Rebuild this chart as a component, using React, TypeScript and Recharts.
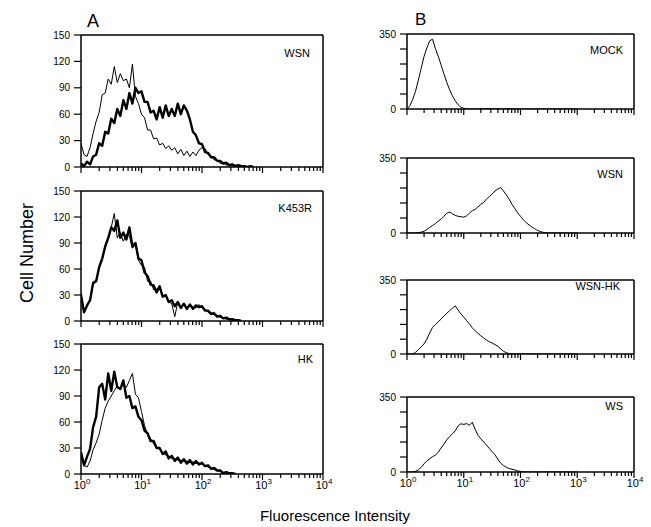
import React from 'react';
import { LineChart, Line, XAxis, YAxis } from 'recharts';

const FONT = '"Liberation Sans", Arial, Helvetica, sans-serif';

// log10 of fluorescence intensity (channel positions)
const logIntensity = [
  0.0, 0.05, 0.1, 0.15, 0.2, 0.25, 0.3, 0.35, 0.4, 0.45,
  0.5, 0.55, 0.6, 0.65, 0.7, 0.75, 0.8, 0.85, 0.9, 0.95,
  1.0, 1.05, 1.1, 1.15, 1.2, 1.25, 1.3, 1.35, 1.4, 1.45,
  1.5, 1.55, 1.6, 1.65, 1.7, 1.75, 1.8, 1.85, 1.9, 1.95,
  2.0, 2.05, 2.1, 2.15, 2.2, 2.25, 2.3, 2.35, 2.4, 2.45,
  2.5, 2.55, 2.6, 2.65, 2.7, 2.75, 2.8, 2.85, 2.9, 2.95,
  3.0,
];

const decadeExponents = ['0', '1', '2', '3', '4'];
const panelNamesA = ['WSN', 'K453R', 'HK'];
const panelNamesB = ['MOCK', 'WSN', 'WSN-HK', 'WS'];
const aYTicks = [0, 30, 60, 90, 120, 150];
const bYTicks = [0, 70, 140, 210, 280, 350];
const bYLabels = [0, 350];

// Panel A – WSN
const a1Thin = [
  27, 14, 12, 22, 38, 52, 62, 82, 84, 100,
  94, 114, 96, 106, 98, 100, 90, 117, 80, 72,
  60, 56, 42, 42, 32, 33, 25, 27, 21, 24,
  19, 22, 15, 20, 13, 18, 12, 17, 13, 19,
  22, 21, 14, 13, 8, 8, 4, 5, 2, 3,
  1, 2, 1, 1, 0, null, null, null, null, null,
  null,
];
const a1Thick = [
  4, 1, 6, 3, 12, 14, 27, 24, 40, 38,
  55, 50, 66, 58, 76, 66, 84, 72, 90, 84,
  86, 74, 74, 62, 64, 54, 68, 56, 70, 58,
  66, 58, 72, 60, 70, 64, 54, 40, 36, 27,
  26, 17, 16, 11, 11, 7, 7, 4, 5, 2,
  3, 1, 2, 1, 1, 0, 1, 0, null, null,
  null,
];
// Panel A – K453R
const a2Thin = [
  32, 10, 18, 24, 42, 46, 62, 70, 86, 94,
  108, 124, 96, 102, 92, 100, 98, 84, 88, 70,
  64, 62, 46, 46, 36, 37, 40, 28, 29, 22,
  20, 5, 22, 16, 19, 15, 17, 16, 15, 19,
  15, 14, 10, 10, 7, 7, 4, 4, 2, 2,
  1, 1, 1, 0, null, null, null, null, null, null,
  null,
];
const a2Thick = [
  30, 10, 18, 24, 44, 46, 62, 72, 86, 96,
  108, 104, 116, 96, 102, 94, 108, 86, 90, 72,
  70, 56, 52, 42, 41, 33, 40, 28, 30, 22,
  24, 17, 22, 15, 20, 14, 19, 14, 18, 16,
  17, 12, 12, 8, 9, 5, 6, 3, 4, 2,
  2, 1, 1, 0, null, null, null, null, null, null,
  null,
];
// Panel A – HK
const a3Thin = [
  20, 10, 8, 15, 28, 36, 46, 62, 76, 84,
  90, 96, 102, 98, 104, 100, 108, 116, 92, 88,
  72, 56, 46, 41, 35, 30, 29, 24, 22, 21,
  18, 18, 16, 16, 15, 15, 13, 14, 12, 13,
  11, 10, 8, 7, 5, 4, 3, 2, 1, 1,
  1, 0, null, null, null, null, null, null, null, null,
  null,
];
const a3Thick = [
  25, 10, 20, 29, 54, 66, 100, 104, 86, 116,
  96, 118, 100, 98, 108, 88, 90, 76, 78, 66,
  62, 50, 47, 38, 38, 30, 30, 23, 26, 18,
  21, 15, 19, 13, 17, 12, 16, 11, 15, 11,
  13, 9, 10, 6, 7, 4, 4, 1, 2, 1,
  1, 0, null, null, null, null, null, null, null, null,
  null,
];
// Panel B
const b1Mock = [
  0, 15, 45, 82, 135, 190, 245, 285, 318, 326,
  282, 246, 206, 165, 125, 90, 62, 38, 20, 8,
  3, 1, 0, 0, 0, 0, 2, 0, 0, 3,
  0, 0, 2, 0, 0, 0, 1, 0, 0, 0,
  0, 0, 0, 0, 0, 0, 0, 0, 0, 0,
  0, 0, 0, 0, 0, 0, 0, 0, 0, 0,
  0,
];
const b2Wsn = [
  0, 0, 0, 1, 2, 4, 8, 16, 26, 35,
  44, 55, 64, 78, 92, 98, 90, 82, 78, 76,
  74, 80, 92, 104, 110, 122, 134, 142, 158, 170,
  182, 196, 205, 212, 196, 178, 158, 134, 114, 94,
  78, 62, 48, 38, 28, 20, 12, 7, 3, 1,
  0, 0, 0, 0, 0, 0, 0, 0, 0, 0,
  0,
];
const b3WsnHk = [
  0, 0, 0, 8, 20, 34, 48, 70, 100, 126,
  140, 152, 165, 180, 192, 205, 216, 228, 208, 190,
  174, 158, 142, 124, 110, 98, 86, 76, 66, 58,
  52, 45, 36, 25, 13, 6, 2, 0, 0, 0,
  0, 0, 0, 0, 0, 0, 0, 0, 0, 0,
  0, 0, 0, 0, 0, 0, 0, 0, 0, 0,
  0,
];
const b4Ws = [
  0, 0, 0, 3, 10, 22, 38, 52, 62, 72,
  78, 92, 112, 130, 150, 165, 178, 192, 215, 225,
  222, 226, 218, 232, 200, 172, 155, 140, 126, 110,
  95, 80, 60, 42, 30, 22, 16, 13, 10, 5,
  3, 1, 0, 0, 0, 0, 0, 0, 0, 0,
  0, 0, 0, 0, 0, 0, 0, 0, 0, 0,
  0,
];

const rows = logIntensity.map((x, i) => ({
  x,
  a1Thin: a1Thin[i],
  a1Thick: a1Thick[i],
  a2Thin: a2Thin[i],
  a2Thick: a2Thick[i],
  a3Thin: a3Thin[i],
  a3Thick: a3Thick[i],
  b1Mock: b1Mock[i],
  b2Wsn: b2Wsn[i],
  b3WsnHk: b3WsnHk[i],
  b4Ws: b4Ws[i],
}));

const xTicks: number[] = [];
for (let d = 0; d < 4; d++) {
  xTicks.push(d);
  for (let k = 2; k <= 9; k++) xTicks.push(d + Math.log10(k));
}
xTicks.push(4);

function XTick(props: any) {
  const { x, y, payload, showLabel } = props;
  const v = payload.value as number;
  const major = Math.abs(v - Math.round(v)) < 1e-6;
  return (
    <g>
      <line x1={x} y1={y} x2={x} y2={y + (major ? 6 : 4)} stroke="#000" strokeWidth={1.2} />
      {showLabel && major ? (
        <text x={x + 1} y={y + 15} textAnchor="middle" fontSize={11} fill="#000" fontFamily={FONT}>
          10<tspan dy={-5} fontSize={8}>{decadeExponents[Math.round(v)]}</tspan>
        </text>
      ) : null}
    </g>
  );
}

function YTick(props: any) {
  const { x, y, payload, labels } = props;
  const v = payload.value as number;
  return (
    <g>
      <line x1={x - 7} y1={y} x2={x} y2={y} stroke="#000" strokeWidth={1.2} />
      {labels.includes(v) ? (
        <text x={x - 11} y={y + 3.5} textAnchor="end" fontSize={10} fill="#000" fontFamily={FONT}>
          {v}
        </text>
      ) : null}
    </g>
  );
}

type Series = { key: string; w: number };

const YW = 40;
const XH = 25;
const TH = 5;
const RW = 5;

function Panel(props: {
  rect: [number, number, number, number];
  yMax: number;
  yTicks: number[];
  yLabels: number[];
  series: Series[];
  showX: boolean;
}) {
  const [L, T, R, B] = props.rect;
  const axisStyle = { stroke: '#000', strokeWidth: 1.5 };
  return (
    <div style={{ position: 'absolute', left: 0, top: 0 }}>
      <LineChart
        width={651}
        height={527}
        data={rows}
        margin={{ top: T - TH, left: L - YW, right: 651 - R - RW, bottom: 527 - B - XH }}
      >
        <XAxis
          xAxisId="b"
          dataKey="x"
          type="number"
          domain={[0, 4]}
          ticks={xTicks}
          interval={0}
          tickSize={0}
          tickMargin={0}
          height={XH}
          axisLine={axisStyle}
          tickLine={false}
          allowDataOverflow
          tick={(p: any) => <XTick {...p} showLabel={props.showX} />}
        />
        <XAxis
          xAxisId="t"
          orientation="top"
          type="number"
          domain={[0, 4]}
          height={TH}
          tick={false}
          tickLine={false}
          axisLine={axisStyle}
          allowDataOverflow
        />
        <YAxis
          yAxisId="l"
          type="number"
          domain={[0, props.yMax]}
          ticks={props.yTicks}
          interval={0}
          width={YW}
          tickSize={0}
          tickMargin={0}
          tickLine={false}
          axisLine={axisStyle}
          allowDataOverflow
          tick={(p: any) => <YTick {...p} labels={props.yLabels} />}
        />
        <YAxis
          yAxisId="r"
          orientation="right"
          type="number"
          domain={[0, props.yMax]}
          width={RW}
          tick={false}
          tickLine={false}
          axisLine={axisStyle}
          allowDataOverflow
        />
        {props.series.map((s) => (
          <Line
            key={s.key}
            xAxisId="b"
            yAxisId="l"
            dataKey={s.key}
            type="linear"
            stroke="#000"
            strokeWidth={s.w}
            strokeLinejoin="round"
            dot={false}
            activeDot={false}
            isAnimationActive={false}
          />
        ))}
      </LineChart>
    </div>
  );
}

export default function App() {
  return (
    <div
      style={{
        position: 'absolute',
        left: 0,
        top: 0,
        width: 651,
        height: 527,
        background: '#fff',
        fontFamily: FONT,
        overflow: 'hidden',
      }}
    >
      <Panel rect={[81, 35, 323, 167]} yMax={150} yTicks={aYTicks} yLabels={aYTicks} showX={false}
        series={[{ key: 'a1Thin', w: 1 }, { key: 'a1Thick', w: 2.4 }]} />
      <Panel rect={[81, 191, 323, 321]} yMax={150} yTicks={aYTicks} yLabels={aYTicks} showX={false}
        series={[{ key: 'a2Thin', w: 1 }, { key: 'a2Thick', w: 2.4 }]} />
      <Panel rect={[81, 344, 323, 474]} yMax={150} yTicks={aYTicks} yLabels={aYTicks} showX={true}
        series={[{ key: 'a3Thin', w: 1 }, { key: 'a3Thick', w: 2.4 }]} />
      <Panel rect={[407, 34, 634, 109]} yMax={350} yTicks={bYTicks} yLabels={bYLabels} showX={false}
        series={[{ key: 'b1Mock', w: 1 }]} />
      <Panel rect={[407, 158, 634, 233]} yMax={350} yTicks={bYTicks} yLabels={bYLabels} showX={false}
        series={[{ key: 'b2Wsn', w: 1 }]} />
      <Panel rect={[407, 280, 634, 354]} yMax={350} yTicks={bYTicks} yLabels={bYLabels} showX={false}
        series={[{ key: 'b3WsnHk', w: 1 }]} />
      <Panel rect={[407, 397, 634, 472]} yMax={350} yTicks={bYTicks} yLabels={bYLabels} showX={true}
        series={[{ key: 'b4Ws', w: 1 }]} />
      <svg
        width={651}
        height={527}
        style={{ position: 'absolute', left: 0, top: 0, pointerEvents: 'none' }}
        fontFamily={FONT}
      >
        <text x={87} y={27} fontSize={18} fill="#000">A</text>
        <text x={415} y={25} fontSize={17} fill="#000">B</text>
        <text x={33} y={253} fontSize={18} fill="#000" textAnchor="middle" transform="rotate(-90, 33, 253)">
          Cell Number
        </text>
        <text x={335} y={521} fontSize={15} fill="#000" textAnchor="middle">Fluorescence Intensity</text>
        <text x={310} y={57} fontSize={11} textAnchor="end" fill="#000">{panelNamesA[0]}</text>
        <text x={312} y={212} fontSize={11} textAnchor="end" fill="#000">{panelNamesA[1]}</text>
        <text x={313} y={363} fontSize={11} textAnchor="end" fill="#000">{panelNamesA[2]}</text>
        <text x={623} y={54} fontSize={11} textAnchor="end" fill="#000">{panelNamesB[0]}</text>
        <text x={623} y={178} fontSize={11} textAnchor="end" fill="#000">{panelNamesB[1]}</text>
        <text x={620} y={290} fontSize={11} textAnchor="end" fill="#000">{panelNamesB[2]}</text>
        <text x={623} y={410} fontSize={11} textAnchor="end" fill="#000">{panelNamesB[3]}</text>
      </svg>
    </div>
  );
}
